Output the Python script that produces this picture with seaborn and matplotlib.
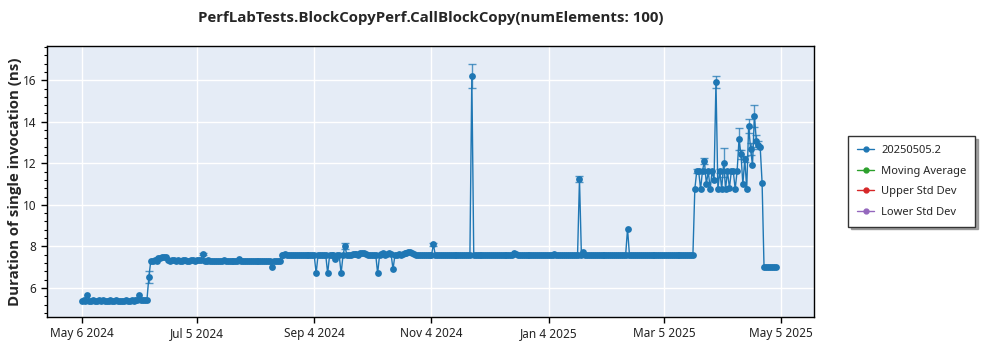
import matplotlib
matplotlib.use("Agg")
import matplotlib.pyplot as plt
import matplotlib.dates as mdates
from matplotlib.lines import Line2D
from matplotlib.ticker import MultipleLocator, FixedLocator, FixedFormatter
import seaborn as sns
import pandas as pd

# ---------------- data ----------------
title = "PerfLabTests.BlockCopyPerf.CallBlockCopy(numElements: 100)"
y_label = "Duration of single invocation (ns)"
legend_names = ["20250505.2", "Moving Average", "Upper Std Dev", "Lower Std Dev"]
legend_colors = ["#1f77b4", "#2ca02c", "#d62728", "#9467bd"]
tick_dates = ["2024-05-06", "2024-07-05", "2024-09-04", "2024-11-04",
              "2025-01-04", "2025-03-05", "2025-05-05"]
tick_labels = ["May 6 2024", "Jul 5 2024", "Sep 4 2024", "Nov 4 2024",
               "Jan 4 2025", "Mar 5 2025", "May 5 2025"]
x_range = ["2024-04-18", "2025-05-22"]
y_range = [4.6, 17.65]

# one run per day, from first_day to last_day
first_day = "2024-05-06"
last_day = "2025-05-02"

# daily durations (ns), one row per week starting on Monday
values = [
    5.38, 5.40, 5.39, 5.66, 5.38, 5.37, 5.40,          # May 6
    5.39, 5.38, 5.41, 5.37, 5.40, 5.39, 5.38,          # May 13
    5.37, 5.40, 5.38, 5.39, 5.41, 5.38, 5.37,          # May 20
    5.39, 5.38, 5.40, 5.37, 5.39, 5.41, 5.38,          # May 27
    5.40, 5.42, 5.67, 5.41, 5.43, 5.42, 5.44,          # Jun 3
    6.53, 7.31, 7.32, 7.33, 7.31, 7.44, 7.46,          # Jun 10
    7.48, 7.50, 7.47, 7.34, 7.32, 7.36, 7.33,          # Jun 17
    7.32, 7.33, 7.31, 7.32, 7.35, 7.33, 7.32,          # Jun 24
    7.32, 7.34, 7.33, 7.32, 7.33, 7.35, 7.34,          # Jul 1
    7.63, 7.32, 7.31, 7.33, 7.32, 7.31, 7.32,          # Jul 8
    7.30, 7.31, 7.32, 7.31, 7.33, 7.31, 7.30,          # Jul 15
    7.31, 7.30, 7.31, 7.32, 7.31, 7.38, 7.31,          # Jul 22
    7.31, 7.30, 7.31, 7.30, 7.31, 7.32, 7.31,          # Jul 29
    7.30, 7.31, 7.30, 7.31, 7.32, 7.30, 7.31,          # Aug 5
    7.30, 7.02, 7.31, 7.30, 7.31, 7.30, 7.58,          # Aug 12
    7.60, 7.62, 7.57, 7.58, 7.59, 7.57, 7.58,          # Aug 19
    7.57, 7.58, 7.57, 7.58, 7.57, 7.58, 7.57,          # Aug 26
    7.58, 7.57, 7.58, 6.70, 7.58, 7.57, 7.58,          # Sep 2
    7.57, 7.58, 6.70, 7.57, 7.58, 7.57, 7.40,          # Sep 9
    7.58, 7.57, 6.70, 7.58, 8.02, 7.57, 7.58,          # Sep 16
    7.60, 7.62, 7.65, 7.62, 7.58, 7.66, 7.68,          # Sep 23
    7.66, 7.64, 7.60, 7.58, 7.60, 7.58, 7.60,          # Sep 30
    6.70, 7.58, 7.64, 7.66, 7.60, 7.62, 7.68,          # Oct 7
    7.62, 6.90, 7.58, 7.60, 7.62, 7.60, 7.63,          # Oct 14
    7.66, 7.68, 7.72, 7.75, 7.70, 7.62, 7.60,          # Oct 21
    7.58, 7.57, 7.58, 7.57, 7.58, 7.59, 7.58,          # Oct 28
    7.57, 8.10, 7.58, 7.57, 7.58, 7.57, 7.58,          # Nov 4
    7.57, 7.58, 7.57, 7.58, 7.57, 7.58, 7.57,          # Nov 11
    7.58, 7.57, 7.58, 7.57, 7.58, 7.57, 7.58,          # Nov 18
    16.22, 7.58, 7.57, 7.58, 7.57, 7.58, 7.57,         # Nov 25
    7.58, 7.57, 7.58, 7.57, 7.58, 7.57, 7.58,          # Dec 2
    7.57, 7.58, 7.57, 7.58, 7.57, 7.58, 7.57,          # Dec 9
    7.58, 7.68, 7.62, 7.58, 7.57, 7.58, 7.57,          # Dec 16
    7.58, 7.57, 7.58, 7.57, 7.58, 7.57, 7.58,          # Dec 23
    7.57, 7.58, 7.57, 7.58, 7.57, 7.58, 7.57,          # Dec 30
    7.58, 7.65, 7.58, 7.57, 7.58, 7.57, 7.58,          # Jan 6
    7.57, 7.58, 7.57, 7.58, 7.57, 7.58, 7.57,          # Jan 13
    11.25, 7.58, 7.75, 7.58, 7.57, 7.58, 7.57,         # Jan 20
    7.58, 7.57, 7.58, 7.57, 7.58, 7.57, 7.58,          # Jan 27
    7.57, 7.58, 7.57, 7.58, 7.57, 7.58, 7.57,          # Feb 3
    7.58, 7.57, 7.58, 7.57, 8.85, 7.58, 7.57,          # Feb 10
    7.58, 7.57, 7.58, 7.57, 7.58, 7.57, 7.58,          # Feb 17
    7.57, 7.58, 7.57, 7.58, 7.57, 7.58, 7.57,          # Feb 24
    7.58, 7.57, 7.58, 7.57, 7.58, 7.57, 7.58,          # Mar 3
    7.57, 7.58, 7.57, 7.58, 7.57, 7.58, 7.57,          # Mar 10
    7.58, 7.57, 7.58, 7.57, 10.76, 11.62, 11.62,       # Mar 17
    10.76, 11.65, 12.10, 11.00, 11.62, 10.76, 11.62,   # Mar 24
    11.20, 15.93, 10.76, 11.62, 10.76, 12.02, 10.76,   # Mar 31
    11.62, 10.80, 11.62, 11.62, 10.76, 11.62, 13.16,   # Apr 7
    12.43, 11.00, 12.20, 10.76, 13.80, 12.70, 11.90,   # Apr 14
    14.30, 13.08, 12.88, 12.80, 11.06, 7.02, 7.03,     # Apr 21
    7.02, 7.03, 7.02, 7.03, 7.02,                      # Apr 28
]

# error-bar half widths (only where visible)
err_dates = ["2024-06-10", "2024-07-08", "2024-09-20", "2024-11-05", "2024-11-25",
             "2025-01-20", "2025-03-22", "2025-03-26", "2025-04-01", "2025-04-03",
             "2025-04-05", "2025-04-13", "2025-04-14", "2025-04-16", "2025-04-18",
             "2025-04-19", "2025-04-21", "2025-04-22", "2025-04-23"]
err_sizes = [0.29, 0.05, 0.16, 0.07, 0.58,
             0.15, 0.10, 0.15, 0.28, 0.10,
             0.70, 0.52, 0.20, 0.15, 0.32,
             0.30, 0.53, 0.30, 0.20]

# ---------------- plot ----------------
sns.set_style("whitegrid", {
    "axes.facecolor": "#E5ECF6",
    "grid.color": "white",
    "axes.edgecolor": "black",
})
plt.rcParams["font.family"] = ["Noto Sans", "DejaVu Sans"]
bold_family = ["Open Sans", "DejaVu Sans"]

blue = legend_colors[0]
days = pd.date_range(first_day, last_day, freq="D")
assert len(days) == len(values)
df = pd.DataFrame({"date": days, "ns": values})

fig = plt.figure(figsize=(10, 3.5), dpi=100)
ax = fig.add_axes([0.047, 0.0943, 0.767, 0.7743])

sns.lineplot(data=df, x="date", y="ns", estimator=None, sort=False,
             marker="o", markersize=4.9, markeredgewidth=0, linewidth=1,
             color=blue, ax=ax, legend=False, zorder=3)

lookup = df.set_index("date")["ns"]
ed = pd.to_datetime(err_dates)
ax.errorbar(ed, [lookup[d] for d in ed], yerr=err_sizes, fmt="none",
            ecolor=blue, alpha=0.75, elinewidth=1, capsize=3, capthick=1, zorder=3)

ax.set_xlim(pd.to_datetime(x_range[0]), pd.to_datetime(x_range[1]))
ax.set_ylim(*y_range)
ax.xaxis.set_major_locator(FixedLocator(mdates.date2num(pd.to_datetime(tick_dates))))
ax.xaxis.set_major_formatter(FixedFormatter(tick_labels))
ax.yaxis.set_major_locator(MultipleLocator(2))
ax.yaxis.set_minor_locator(MultipleLocator(0.4))
ax.grid(True, which="major", color="white", linewidth=1)
ax.grid(False, which="minor")
ax.tick_params(axis="both", which="major", direction="out", length=4, width=1,
               color="black", labelsize=8.5, labelcolor="#222222", bottom=True, left=True)
ax.tick_params(axis="y", which="minor", direction="out", length=2.5, width=0.8,
               color="black", left=True)
for s in ax.spines.values():
    s.set_color("black")
    s.set_linewidth(1)

ax.set_xlabel("")
ax.set_ylabel(y_label, fontsize=10.8, fontweight="bold", family=bold_family, labelpad=1)
ax.set_title(title, fontsize=10.8, fontweight="bold", family=bold_family, pad=17)

handles = [Line2D([0], [0], color=c, marker="o", markersize=3.5, linewidth=1)
           for c in legend_colors]
leg = ax.legend(handles, legend_names, loc="center left", bbox_to_anchor=(1.044, 0.5),
                borderaxespad=0, frameon=True, fancybox=False,
                shadow={"color": "0.55", "alpha": 0.8}, edgecolor="#333333",
                facecolor="white", framealpha=1, fontsize=8, handlelength=1.6,
                handletextpad=0.6, borderpad=0.8, labelspacing=0.85)
leg.get_frame().set_linewidth(1)

fig.savefig("out.png", dpi=100)
